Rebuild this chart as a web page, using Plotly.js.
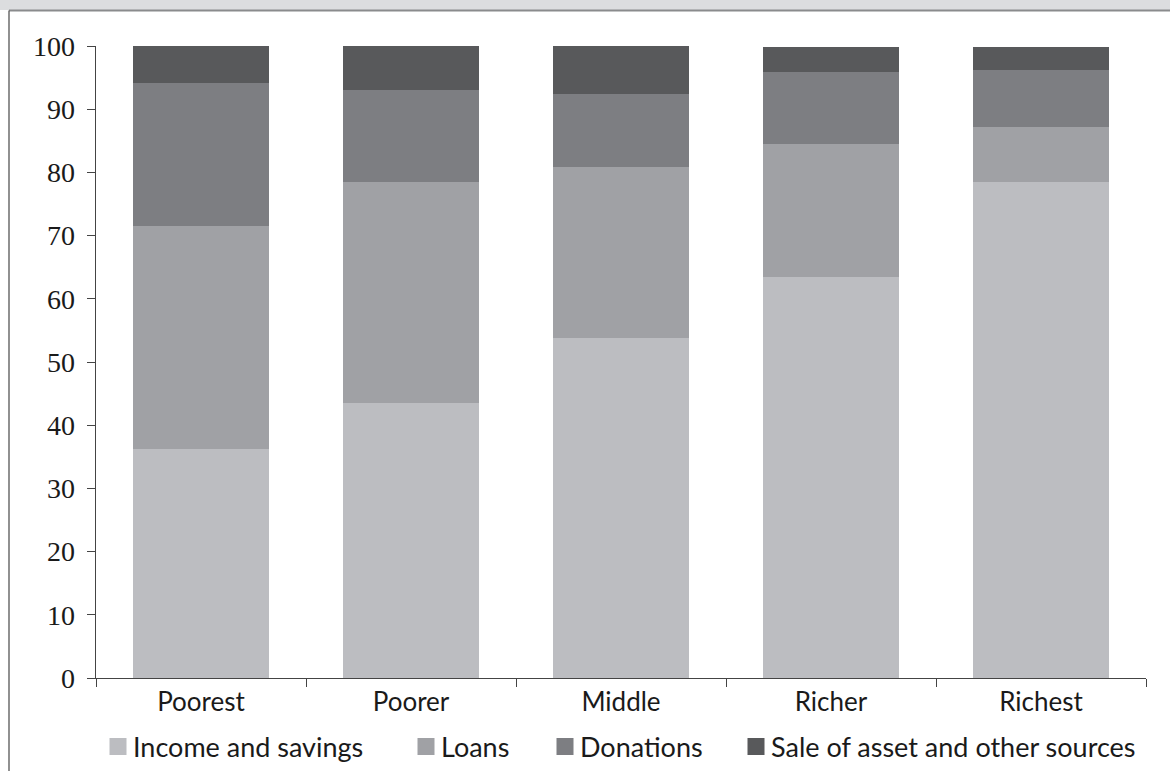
<!DOCTYPE html>
<html>
<head>
<meta charset="utf-8">
<script src="https://cdn.plot.ly/plotly-3.0.1.min.js"></script>
<style>
html,body{margin:0;padding:0;background:#fff;}
#chart{width:1170px;height:771px;}
</style>
</head>
<body>
<div id="chart"></div>
<script>
const categories = ["Poorest", "Poorer", "Middle", "Richer", "Richest"];
const seriesNames = ["Income and savings", "Loans", "Donations", "Sale of asset and other sources"];
const incomeSavings = [36.2, 43.5, 53.8, 63.4, 78.5];
const loans = [35.3, 35.0, 27.1, 21.1, 8.7];
const donations = [22.6, 14.5, 11.5, 11.4, 9.0];
const saleOther = [5.9, 7.0, 7.6, 3.9, 3.6];
const yTicks = [0, 10, 20, 30, 40, 50, 60, 70, 80, 90, 100];

const colors = ["#bcbdc1", "#a0a1a5", "#7d7e82", "#58595b"];
const values = [incomeSavings, loans, donations, saleOther];
const legendIds = ["legend", "legend2", "legend3", "legend4"];

const traces = values.map((v, i) => ({
  type: "bar",
  name: seriesNames[i],
  x: categories,
  y: v,
  legend: legendIds[i],
  marker: {color: colors[i], line: {width: 0}},
  hoverinfo: "name+y"
}));

const serif = "'Liberation Serif', 'DejaVu Serif', serif";
const sans = "Lato, 'Open Sans', sans-serif";

// plot area in pixels: left 96, width 1050, top 46, height 632
const legendLeftPx = [93, 401, 540, 731];
function legendAt(px) {
  return {
    orientation: "h",
    x: (px - 96) / 1050, xanchor: "left",
    y: (678 - 747) / 632, yanchor: "middle",
    font: {family: sans, size: 27, color: "#1a1a1a"},
    bgcolor: "rgba(0,0,0,0)",
    borderwidth: 0
  };
}

const layout = {
  width: 1170,
  height: 771,
  margin: {l: 96, r: 24, t: 46, b: 93, autoexpand: false},
  barmode: "stack",
  bargap: 0.352,
  paper_bgcolor: "#ffffff",
  plot_bgcolor: "#ffffff",
  showlegend: true,
  legend: legendAt(legendLeftPx[0]),
  legend2: legendAt(legendLeftPx[1]),
  legend3: legendAt(legendLeftPx[2]),
  legend4: legendAt(legendLeftPx[3]),
  xaxis: {
    type: "category",
    showline: true,
    linecolor: "#444",
    linewidth: 1.3,
    ticks: "outside",
    tickson: "boundaries",
    ticklen: 8,
    tickcolor: "#444",
    tickfont: {family: sans, size: 26, color: "#1a1a1a"},
    showgrid: false,
    zeroline: false,
    fixedrange: true
  },
  yaxis: {
    range: [0, 100],
    tickvals: yTicks,
    ticktext: yTicks.map(String),
    showline: true,
    linecolor: "#444",
    linewidth: 1.3,
    ticks: "outside",
    ticklen: 8,
    tickcolor: "#444",
    tickfont: {family: serif, size: 28, color: "#1a1a1a"},
    ticklabelstandoff: 6,
    showgrid: false,
    zeroline: false,
    fixedrange: true
  },
  shapes: [
    {type: "rect", xref: "paper", yref: "paper", layer: "below",
     x0: -0.2, x1: 1.1, y0: (678 - 10) / 632, y1: 1.2,
     fillcolor: "#dcdddf", line: {width: 0}},
    {type: "line", xref: "paper", yref: "paper",
     x0: (9 - 96) / 1050, x1: 1.1, y0: (678 - 10.5) / 632, y1: (678 - 10.5) / 632,
     line: {color: "#8a8b8d", width: 2}},
    {type: "line", xref: "paper", yref: "paper",
     x0: (9 - 96) / 1050, x1: (9 - 96) / 1050, y0: -0.3, y1: (678 - 10.5) / 632,
     line: {color: "#555", width: 1.3}}
  ]
};

Plotly.newPlot("chart", traces, layout, {displayModeBar: false, staticPlot: true}).then(gd => {
  gd.querySelectorAll("g.legendpoints path").forEach(p => {
    p.setAttribute("d", "M13.5,8.5H-3.5V-8.5H13.5Z");
  });
});
</script>
</body>
</html>
